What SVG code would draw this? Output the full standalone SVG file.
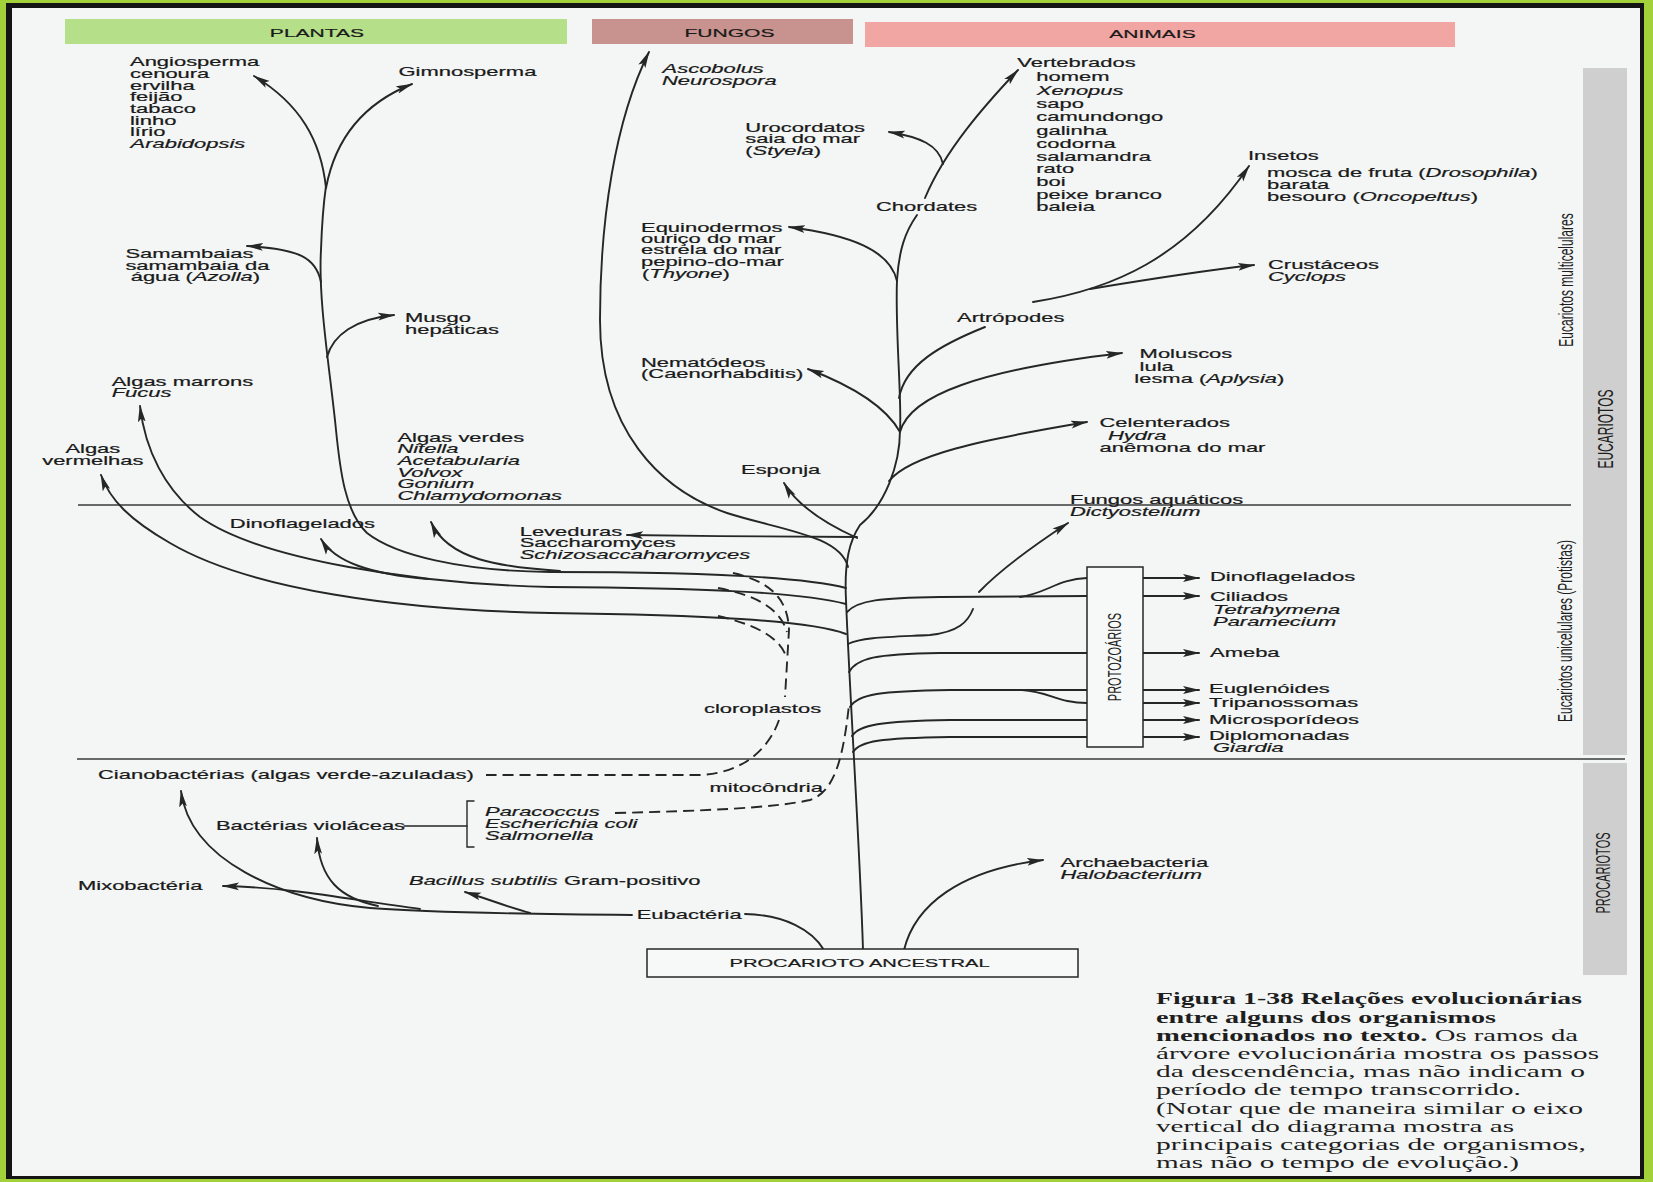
<svg xmlns="http://www.w3.org/2000/svg" width="1653" height="1182" viewBox="0 0 1653 1182">
<defs>
<style>
.t{font-family:"Liberation Sans",Arial,sans-serif;font-size:12px;fill:#1a1a1a;stroke:#1a1a1a;stroke-width:0.2;transform:scaleX(1.83);transform-box:fill-box;transform-origin:0 50%;}
.c{transform-origin:50% 50%;text-anchor:middle;}
.i{font-style:italic;}
.r{font-family:"Liberation Sans",Arial,sans-serif;fill:#1e1e1e;}
.cap{font-family:"Liberation Serif","Times New Roman",serif;font-size:16.5px;fill:#1e1e1e;}
.b{font-weight:bold;}
.ln{fill:none;stroke:#262626;stroke-width:1.9;stroke-linecap:round;}
.ar{marker-end:url(#ah);}
.ds{fill:none;stroke:#262626;stroke-width:1.9;stroke-dasharray:11 6;}
.hl{stroke:#3a3a3a;stroke-width:1.6;}
.box{fill:#f7f9f8;stroke:#262626;stroke-width:1.5;}
</style>
<marker id="ah" viewBox="0 0 17 9" refX="16" refY="4.5" markerWidth="17" markerHeight="9" markerUnits="userSpaceOnUse" orient="auto">
<path d="M0,0.6 L17,4.5 L0,8.4 L3.5,4.5 z" fill="#262626"/>
</marker>
</defs>

<!-- frame -->
<rect width="1653" height="1182" fill="#a2d13a"/>
<rect x="6" y="3" width="1638" height="1176" fill="#141414"/>
<rect x="12" y="8" width="1628" height="1168" fill="#f3f6f5"/>

<!-- side bar -->
<rect x="1583" y="68" width="44" height="687" fill="#cfcfcf"/>
<rect x="1583" y="763" width="44" height="212" fill="#cfcfcf"/>

<!-- divider lines -->
<line class="hl" x1="78" y1="505" x2="1571" y2="505"/>
<line class="hl" x1="77" y1="759" x2="1625" y2="759"/>

<!-- category bands -->
<g id="band-plantas"><rect x="65" y="19" width="502" height="25" fill="#b6df8a"/><text class="t c" x="317" y="37.5" style="font-size:11.5px">PLANTAS</text></g>
<g id="band-fungos"><rect x="592" y="19" width="261" height="25" fill="#c8938e"/><text class="t c" x="729.5" y="37.5" style="font-size:11.5px">FUNGOS</text></g>
<g id="band-animais"><rect x="865" y="22" width="590" height="25" fill="#f2a6a3"/><text class="t c" x="1152.5" y="38.5" style="font-size:11.5px">ANIMAIS</text></g>

<!-- side labels -->
<g id="side-multi"><text class="r" style="font-size:12px" text-anchor="middle" transform="translate(1565,280) scale(1.75,1) rotate(-90)" x="0" y="4.3">Eucariotos multicelulares</text></g>
<g id="side-euc"><text class="r" style="font-size:12px" text-anchor="middle" transform="translate(1605,429) scale(1.8,1) rotate(-90)" x="0" y="4.3">EUCARIOTOS</text></g>
<g id="side-uni"><text class="r" style="font-size:12px" text-anchor="middle" transform="translate(1564,631) scale(1.75,1) rotate(-90)" x="0" y="4.3">Eucariotos unicelulares (Protistas)</text></g>
<g id="side-proc"><text class="r" style="font-size:11px" text-anchor="middle" transform="translate(1603,873) scale(1.8,1) rotate(-90)" x="0" y="4">PROCARIOTOS</text></g>

<!-- connectors -->
<g id="connectors">
<!-- main trunk -->
<path class="ln" d="M863,950 C860,850 850,700 846,600 C844,560 850,540 860,525 C885,505 900,465 900,430 C902,400 895,330 897,280 C899,250 905,232 917,215"/>
<path class="ln ar" d="M925,198 C945,150 985,105 1018,70"/>
<path class="ln ar" d="M943,164 C939,145 920,137 889,132"/>
<path class="ln ar" d="M897,281 C890,250 850,235 789,227"/>
<path class="ln ar" d="M900,432 C885,405 850,385 808,369"/>
<path class="ln ar" d="M900,432 C910,395 980,370 1122,353"/>
<path class="ln" d="M899,398 C905,365 940,345 985,327"/>
<path class="ln ar" d="M1033,302 C1110,290 1185,260 1249,166"/>
<path class="ln ar" d="M1090,289 C1150,279 1200,271 1254,265"/>
<path class="ln ar" d="M889,481 C910,455 980,440 1087,422"/>
<path class="ln ar" d="M857,538 C835,528 800,510 784,483"/>
<path class="ln ar" d="M857,537 C800,537 700,536 627,535"/>
<path class="ln ar" d="M848,567 C840,535 780,530 727,513 C660,490 600,430 600,320 C600,220 615,120 649,52"/>
<!-- plants -->
<path class="ln" d="M846,588 C800,576 680,572 550,572 C460,571 395,555 367,533 C345,512 340,470 336,430 C330,370 318,300 321,250 C322,220 324,200 326,186"/>
<path class="ln ar" d="M326,188 C321,140 300,104 254,76"/>
<path class="ln ar" d="M326,188 C335,140 362,104 412,84"/>
<path class="ln ar" d="M321,282 C316,258 300,249 247,246"/>
<path class="ln ar" d="M327,357 C333,335 355,319 394,315"/>
<path class="ln ar" d="M560,571 C500,567 448,560 431,522"/>
<path class="ln ar" d="M428,579 C370,574 335,562 321,539"/>
<path class="ln ar" d="M846,604 C800,592 700,588 550,587 C420,584 260,560 200,517 C165,490 145,450 140,406"/>
<path class="ln ar" d="M846,634 C810,620 700,615 550,613 C400,610 250,590 170,543 C130,520 110,500 101,475"/>
<!-- protists -->
<path class="ln" d="M847,612 C858,600 880,598 940,597 L1087,596"/>
<path class="ln" d="M1020,597 C1045,594 1058,579 1087,578"/>
<path class="ln" d="M848,644 C862,637 890,637 930,635 C958,632 968,622 973,609"/>
<path class="ln ar" d="M979,592 C1000,570 1030,548 1068,523"/>
<path class="ln" d="M849,672 C857,658 875,654 940,653 L1087,653"/>
<path class="ln" d="M850,707 C858,694 880,691 950,690 L1087,690"/>
<path class="ln" d="M1022,690 C1050,692 1058,703 1087,703"/>
<path class="ln" d="M852,736 C859,725 880,721 950,720 L1087,720"/>
<path class="ln" d="M853,752 C860,741 880,738 950,737 L1087,737"/>
<path class="ln ar" d="M1143,578 L1199,578"/>
<path class="ln ar" d="M1143,596 L1199,596"/>
<path class="ln ar" d="M1143,653 L1199,653"/>
<path class="ln ar" d="M1143,690 L1199,690"/>
<path class="ln ar" d="M1143,703 L1199,703"/>
<path class="ln ar" d="M1143,720 L1199,720"/>
<path class="ln ar" d="M1143,737 L1199,737"/>
<!-- endosymbiosis -->
<path class="ds" d="M733,573 C768,581 788,597 789,630 L785,697"/>
<path class="ds" d="M718,588 C755,595 780,608 787,632"/>
<path class="ds" d="M718,616 C752,624 778,635 786,656"/>
<path class="ds" d="M779,720 C770,746 746,773 700,775 L486,775"/>
<path class="ds" d="M615,813 C700,811 775,808 810,800 C834,792 843,760 849,705"/>
<!-- prokaryotes -->
<path class="ln ar" d="M904,950 C915,905 960,870 1043,860"/>
<path class="ln" d="M745,914 C785,915 812,930 824,950"/>
<path class="ln ar" d="M632,915 C520,914 420,912 370,908 C280,900 190,860 181,791"/>
<path class="ln ar" d="M420,909 C350,900 300,888 223,886"/>
<path class="ln ar" d="M378,906 C340,898 320,880 317,838"/>
<path class="ln ar" d="M530,913 C505,906 485,898 465,892"/>
<path class="ln" style="stroke-width:1.4" d="M404,826 L467,826"/>
<path class="ln" style="stroke-width:1.4" d="M474,801 L467,801 L467,847 L474,847"/>
</g>

<!-- plant nodes -->
<g id="n-angiosperma">
<text class="t" x="130" y="66.3">Angiosperma</text>
<text class="t" x="130" y="78">cenoura</text>
<text class="t" x="130" y="89.7">ervilha</text>
<text class="t" x="130" y="101.3">feijão</text>
<text class="t" x="130" y="113">tabaco</text>
<text class="t" x="130" y="124.7">linho</text>
<text class="t" x="130" y="136.3">lírio</text>
<text class="t i" x="130" y="148">Arabidopsis</text>
</g>
<g id="n-gimnosperma"><text class="t" x="398.5" y="75.7">Gimnosperma</text></g>
<g id="n-samambaias">
<text class="t" x="125.4" y="258">Samambaias</text>
<text class="t" x="125.4" y="269.7">samambaia da</text>
<text class="t" x="130.7" y="280.7">água (<tspan class="i">Azolla</tspan>)</text>
</g>
<g id="n-musgo"><text class="t" x="405" y="322.3">Musgo</text><text class="t" x="405" y="334">hepáticas</text></g>
<g id="n-algas-marrons"><text class="t" x="111.7" y="385.7">Algas marrons</text><text class="t i" x="111.7" y="397.3">Fucus</text></g>
<g id="n-algas-vermelhas"><text class="t" x="65.4" y="453.3">Algas</text><text class="t" x="42.2" y="465">vermelhas</text></g>
<g id="n-algas-verdes">
<text class="t" x="397.4" y="441.7">Algas verdes</text>
<text class="t i" x="397.4" y="453.3">Nitella</text>
<text class="t i" x="397.4" y="465">Acetabularia</text>
<text class="t i" x="397.4" y="476.7">Volvox</text>
<text class="t i" x="397.4" y="488.3">Gonium</text>
<text class="t i" x="397.4" y="500">Chlamydomonas</text>
</g>
<g id="n-dinoflagelados-l"><text class="t" x="229.8" y="528.3">Dinoflagelados</text></g>

<!-- fungi -->
<g id="n-ascobolus"><text class="t i" x="662" y="73.5">Ascobolus</text><text class="t i" x="662" y="85">Neurospora</text></g>
<g id="n-leveduras">
<text class="t" x="519.7" y="535.7">Leveduras</text>
<text class="t" x="519.7" y="547.3">Saccharomyces</text>
<text class="t i" x="519.7" y="559">Schizosaccaharomyces</text>
</g>

<!-- animals -->
<g id="n-urocordatos">
<text class="t" x="745.3" y="131.7">Urocordatos</text>
<text class="t" x="745.3" y="143.3">saia do mar</text>
<text class="t" x="745.3" y="154.7">(<tspan class="i">Styela</tspan>)</text>
</g>
<g id="n-equinodermos">
<text class="t" x="641" y="231.7">Equinodermos</text>
<text class="t" x="641" y="243.3">ouriço do mar</text>
<text class="t" x="641" y="254.3">estrela do mar</text>
<text class="t" x="641" y="266">pepino-do-mar</text>
<text class="t" x="642" y="277.7">(<tspan class="i">Thyone</tspan>)</text>
</g>
<g id="n-nematodeos"><text class="t" x="641" y="367.3">Nematódeos</text><text class="t" x="641" y="378.3">(Caenorhabditis)</text></g>
<g id="n-esponja"><text class="t" x="741" y="474">Esponja</text></g>
<g id="n-vertebrados">
<text class="t" x="1017.3" y="67.3">Vertebrados</text>
<text class="t" x="1036.3" y="81.3">homem</text>
<text class="t i" x="1036.3" y="94.7">Xenopus</text>
<text class="t" x="1036.3" y="108">sapo</text>
<text class="t" x="1036.3" y="121.3">camundongo</text>
<text class="t" x="1036.3" y="134.7">galinha</text>
<text class="t" x="1036.3" y="148">codorna</text>
<text class="t" x="1036.3" y="160.7">salamandra</text>
<text class="t" x="1036.3" y="173.3">rato</text>
<text class="t" x="1036.3" y="186">boi</text>
<text class="t" x="1036.3" y="199.3">peixe branco</text>
<text class="t" x="1036.3" y="211.3">baleia</text>
</g>
<g id="n-chordates"><text class="t" x="876" y="211.3">Chordates</text></g>
<g id="n-insetos">
<text class="t" x="1248" y="160">Insetos</text>
<text class="t" x="1267" y="176.7">mosca de fruta (<tspan class="i">Drosophila</tspan>)</text>
<text class="t" x="1267" y="189.3">barata</text>
<text class="t" x="1267" y="201.3">besouro (<tspan class="i">Oncopeltus</tspan>)</text>
</g>
<g id="n-crustaceos"><text class="t" x="1268" y="269">Crustáceos</text><text class="t i" x="1268" y="280.7">Cyclops</text></g>
<g id="n-artropodes"><text class="t" x="957" y="321.7">Artrópodes</text></g>
<g id="n-moluscos">
<text class="t" x="1139.6" y="358.3">Moluscos</text>
<text class="t" x="1139.6" y="371.3">lula</text>
<text class="t" x="1134.3" y="383.3">lesma (<tspan class="i">Aplysia</tspan>)</text>
</g>
<g id="n-celenterados">
<text class="t" x="1099.5" y="426.7">Celenterados</text>
<text class="t i" x="1108" y="440">Hydra</text>
<text class="t" x="1099.5" y="451.7">anêmona do mar</text>
</g>
<g id="n-fungos-aquaticos"><text class="t" x="1070" y="504">Fungos aquáticos</text><text class="t i" x="1070" y="515.7">Dictyostelium</text></g>

<!-- protozoa -->
<g id="n-protozoarios">
<rect class="box" x="1087" y="567" width="56" height="180"/>
<text class="r" style="font-size:11px" text-anchor="middle" transform="translate(1115,657) scale(1.6,1) rotate(-90)" x="0" y="4">PROTOZOÁRIOS</text>
</g>
<g id="n-dinoflagelados-r"><text class="t" x="1210" y="580.7">Dinoflagelados</text></g>
<g id="n-ciliados">
<text class="t" x="1210" y="600.7">Ciliados</text>
<text class="t i" x="1213" y="614">Tetrahymena</text>
<text class="t i" x="1213" y="625.7">Paramecium</text>
</g>
<g id="n-ameba"><text class="t" x="1210" y="657.3">Ameba</text></g>
<g id="n-euglenoides"><text class="t" x="1209" y="693.3">Euglenóides</text></g>
<g id="n-tripanossomas"><text class="t" x="1209" y="707.3">Tripanossomas</text></g>
<g id="n-microsporideos"><text class="t" x="1209" y="724">Microsporídeos</text></g>
<g id="n-diplomonadas"><text class="t" x="1209" y="739.7">Diplomonadas</text><text class="t i" x="1213" y="751.7">Giardia</text></g>

<!-- organelles -->
<g id="n-cloroplastos"><text class="t" x="704" y="712.7">cloroplastos</text></g>
<g id="n-mitocondria"><text class="t" x="709.5" y="792.5">mitocôndria</text></g>

<!-- prokaryotes -->
<g id="n-cianobacterias"><text class="t" x="98" y="779">Cianobactérias (algas verde-azuladas)</text></g>
<g id="n-violaceas"><text class="t" x="216" y="830">Bactérias violáceas</text></g>
<g id="n-paracoccus">
<text class="t i" x="485" y="816">Paracoccus</text>
<text class="t i" x="485" y="828.5">Escherichia coli</text>
<text class="t i" x="485" y="840.5">Salmonella</text>
</g>
<g id="n-mixobacteria"><text class="t" x="78" y="890">Mixobactéria</text></g>
<g id="n-bacillus"><text class="t" x="409" y="885.5"><tspan class="i">Bacillus subtilis</tspan> Gram-positivo</text></g>
<g id="n-eubacteria"><text class="t" x="636.7" y="919">Eubactéria</text></g>
<g id="n-archaebacteria"><text class="t" x="1060.5" y="867.3">Archaebacteria</text><text class="t i" x="1060.5" y="879">Halobacterium</text></g>
<g id="n-procarioto">
<rect class="box" x="647" y="949" width="431" height="28"/>
<text class="t" x="729.5" y="967" style="font-size:11px">PROCARIOTO ANCESTRAL</text>
</g>

<!-- caption -->
<g id="caption">
<text class="cap b" x="1156" y="1004" textLength="426" lengthAdjust="spacingAndGlyphs">Figura 1-38 Relações evolucionárias</text>
<text class="cap b" x="1156" y="1023" textLength="340" lengthAdjust="spacingAndGlyphs">entre alguns dos organismos</text>
<text class="cap" x="1156" y="1041" textLength="422" lengthAdjust="spacingAndGlyphs"><tspan class="b">mencionados no texto.</tspan> Os ramos da</text>
<text class="cap" x="1156" y="1059" textLength="443" lengthAdjust="spacingAndGlyphs">árvore evolucionária mostra os passos</text>
<text class="cap" x="1156" y="1077" textLength="429" lengthAdjust="spacingAndGlyphs">da descendência, mas não indicam o</text>
<text class="cap" x="1156" y="1095" textLength="365" lengthAdjust="spacingAndGlyphs">período de tempo transcorrido.</text>
<text class="cap" x="1156" y="1114" textLength="427" lengthAdjust="spacingAndGlyphs">(Notar que de maneira similar o eixo</text>
<text class="cap" x="1156" y="1132" textLength="358" lengthAdjust="spacingAndGlyphs">vertical do diagrama mostra as</text>
<text class="cap" x="1156" y="1150" textLength="430" lengthAdjust="spacingAndGlyphs">principais categorias de organismos,</text>
<text class="cap" x="1156" y="1167.5" textLength="363" lengthAdjust="spacingAndGlyphs">mas não o tempo de evolução.)</text>
</g>
</svg>
